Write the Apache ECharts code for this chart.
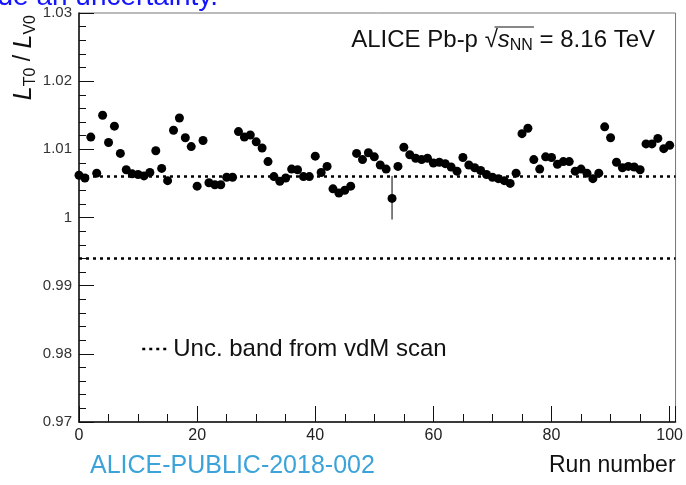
<!DOCTYPE html>
<html><head><meta charset="utf-8">
<script src="https://cdn.jsdelivr.net/npm/echarts@6/dist/echarts.min.js"></script>
<style>html,body{margin:0;padding:0;background:#fff}#c{width:686px;height:485px}</style>
</head><body><div id="c"></div>
<script>
// ---- data ----
const runs = [0,1,2,3,4,5,6,7,8,9,10,11,12,13,14,15,16,17,18,19,20,21,22,23,24,25,26,27,28,29,30,31,32,33,34,35,36,37,38,39,40,41,42,43,44,45,46,47,48,49,50,51,52,53,54,55,56,57,58,59,60,61,62,63,64,65,66,67,68,69,70,71,72,73,74,75,76,77,78,79,80,81,82,83,84,85,86,87,88,89,90,91,92,93,94,95,96,97,98,99,100];
const ratio = [1.0062,1.0058,1.0118,1.0065,1.0150,1.0110,1.0134,1.0094,1.0070,1.0064,
  1.0063,1.0061,1.0066,1.0098,1.0072,1.0054,1.0128,1.0146,1.0117,1.0104,
  1.0046,1.0113,1.0051,1.0048,1.0048,1.0059,1.0059,1.0126,1.0118,1.0121,
  1.0111,1.0102,1.0082,1.0060,1.0053,1.0058,1.0071,1.0070,1.0060,1.0060,
  1.0090,1.0066,1.0075,1.0042,1.0036,1.0040,1.0046,1.0094,1.0085,1.0095,
  1.0089,1.0077,1.0071,1.0028,1.0075,1.0103,1.0092,1.0087,1.0085,1.0087,
  1.0080,1.0081,1.0079,1.0074,1.0068,1.0088,1.0077,1.0073,1.0069,1.0063,
  1.0059,1.0057,1.0054,1.0050,1.0065,1.0123,1.0131,1.0085,1.0071,1.0089,
  1.0088,1.0078,1.0082,1.0082,1.0068,1.0071,1.0065,1.0057,1.0065,1.0133,
  1.0117,1.0081,1.0073,1.0075,1.0074,1.0070,1.0108,1.0108,1.0116,1.0101,
  1.0106];
const errRuns = [53];
const errLow = [0.9997];
const errHigh = [1.0061];
const bandLevels = [1.006, 0.994];
const bandName = 'Unc. band from vdM scan';
const xMin = 0, xMax = 101, xStep = 20;
const yMin = 0.97, yMax = 1.03, yStep = 0.01;

// ---- chart ----
const fam = '"Liberation Sans", Arial, Helvetica, sans-serif';
const chart = echarts.init(document.getElementById('c'), null, {renderer: 'canvas'});

function tw(t, size, style) {
  const c = document.createElement('canvas').getContext('2d');
  c.font = (style || 'normal') + ' ' + size + 'px ' + fam;
  return c.measureText(t).width;
}

// annotation pieces
const aSize = 24, aSub = 16;
const p1 = 'ALICE Pb-p ', p2 = '\u221A', p3 = 's', p4 = 'NN', p5 = ' = 8.16 TeV';
const w1 = tw(p1, aSize), w2 = tw(p2, aSize), w3 = tw(p3, aSize, 'italic'), w4 = tw(p4, aSub), w5 = tw(p5, aSize);
const aRight = 655, aMid = 40;
const aStart = aRight - (w1 + w2 + w3 + w4 + w5);
const x2 = aStart + w1, x3 = x2 + w2, x4 = x3 + w3, x5 = x4 + w4;

const scatterData = runs.map((r, i) => [r, ratio[i]]);
const errData = errRuns.map((r, i) => [r, errLow[i], errHigh[i]]);
const bandStyle = {color: '#000', width: 2.5, type: [3, 4]};
const bandSeries = bandLevels.map(v => ({
  name: bandName, type: 'line', data: [[xMin, v], [xMax, v]], symbol: 'none', silent: true,
  lineStyle: bandStyle, itemStyle: {color: '#000'}, z: 1
}));

chart.setOption({
  animation: false,
  backgroundColor: '#fff',
  textStyle: {fontFamily: fam},
  grid: {left: 79, right: 7, top: 13, bottom: 63, show: true, borderColor: '#777', borderWidth: 1},
  legend: {
    left: 136, top: 332, itemWidth: 26, itemHeight: 14,
    itemStyle: {opacity: 0},
    lineStyle: bandStyle,
    textStyle: {fontSize: 24, color: '#111', fontFamily: fam},
    data: [bandName]
  },
  xAxis: {
    type: 'value', min: xMin, max: xMax, interval: xStep,
    axisLine: {show: true, onZero: false, lineStyle: {color: '#111', width: 1.5}},
    axisTick: {show: true, inside: true, length: 16, lineStyle: {color: '#111', width: 1}},
    minorTick: {show: true, splitNumber: 4, length: 8, lineStyle: {color: '#111', width: 1}},
    axisLabel: {fontSize: 16, color: '#222', margin: 6, showMaxLabel: false, fontFamily: fam},
    splitLine: {show: false},
    name: 'Run number', nameLocation: 'end', nameGap: 0,
    nameTextStyle: {fontSize: 23, color: '#111', align: 'right', verticalAlign: 'top', padding: [32, 0, 0, 0], fontFamily: fam}
  },
  yAxis: {
    type: 'value', min: yMin, max: yMax, interval: yStep,
    axisLine: {show: true, onZero: false, lineStyle: {color: '#111', width: 1.5}},
    axisTick: {show: true, inside: true, length: 15, lineStyle: {color: '#111', width: 1}},
    minorTick: {show: true, splitNumber: 5, length: 7, lineStyle: {color: '#111', width: 1}},
    axisLabel: {fontSize: 15, color: '#333', margin: 7, fontFamily: fam},
    splitLine: {show: false}
  },
  series: bandSeries.concat([
    {
      name: 'errors', type: 'custom', data: errData, z: 2,
      encode: {x: 0, y: [1, 2]},
      renderItem: function (params, api) {
        const x = api.value(0);
        const lo = api.coord([x, api.value(1)]);
        const hi = api.coord([x, api.value(2)]);
        return {type: 'line', shape: {x1: lo[0], y1: lo[1], x2: hi[0], y2: hi[1]}, style: {stroke: '#000', lineWidth: 1}};
      }
    },
    {
      name: 'ratio', type: 'scatter', data: scatterData, symbol: 'circle', symbolSize: 9,
      itemStyle: {color: '#000', opacity: 1}, z: 3
    }
  ]),
  graphic: [
    {type: 'text', x: 218, y: 11, style: {text: 'include an uncertainty.', fill: '#1414ff', font: '28px ' + fam, align: 'right', verticalAlign: 'bottom'}},
    {type: 'text', x: 90, y: 466, style: {text: 'ALICE-PUBLIC-2018-002', fill: '#3ba3d9', font: '25px ' + fam, align: 'left', verticalAlign: 'middle'}},
    {type: 'text', x: 24, y: 15, rotation: Math.PI / 2, style: {
      text: '{i|L}{s|T0}{n| / }{i|L}{s|V0}', align: 'right', verticalAlign: 'middle',
      rich: {
        i: {fontSize: 25, fontStyle: 'italic', fontFamily: fam, fill: '#111', lineHeight: 30, verticalAlign: 'middle'},
        n: {fontSize: 23, fontFamily: fam, fill: '#111', lineHeight: 30, verticalAlign: 'middle'},
        s: {fontSize: 16, fontFamily: fam, fill: '#111', lineHeight: 16, verticalAlign: 'bottom'}
      }
    }},
    {type: 'text', x: aStart, y: aMid, style: {text: p1, font: aSize + 'px ' + fam, fill: '#111', verticalAlign: 'middle'}},
    {type: 'text', x: x2, y: aMid, style: {text: p2, font: aSize + 'px ' + fam, fill: '#111', verticalAlign: 'middle'}},
    {type: 'text', x: x3, y: aMid, style: {text: p3, font: 'italic ' + aSize + 'px ' + fam, fill: '#111', verticalAlign: 'middle'}},
    {type: 'text', x: x4, y: aMid + 6, style: {text: p4, font: aSub + 'px ' + fam, fill: '#111', verticalAlign: 'middle'}},
    {type: 'text', x: x5, y: aMid, style: {text: p5, font: aSize + 'px ' + fam, fill: '#111', verticalAlign: 'middle'}},
    {type: 'line', shape: {x1: x2 + w2 * 0.75, y1: aMid - 13, x2: x5 + 1, y2: aMid - 13}, style: {stroke: '#111', lineWidth: 1.2}}
  ]
});
</script></body></html>
